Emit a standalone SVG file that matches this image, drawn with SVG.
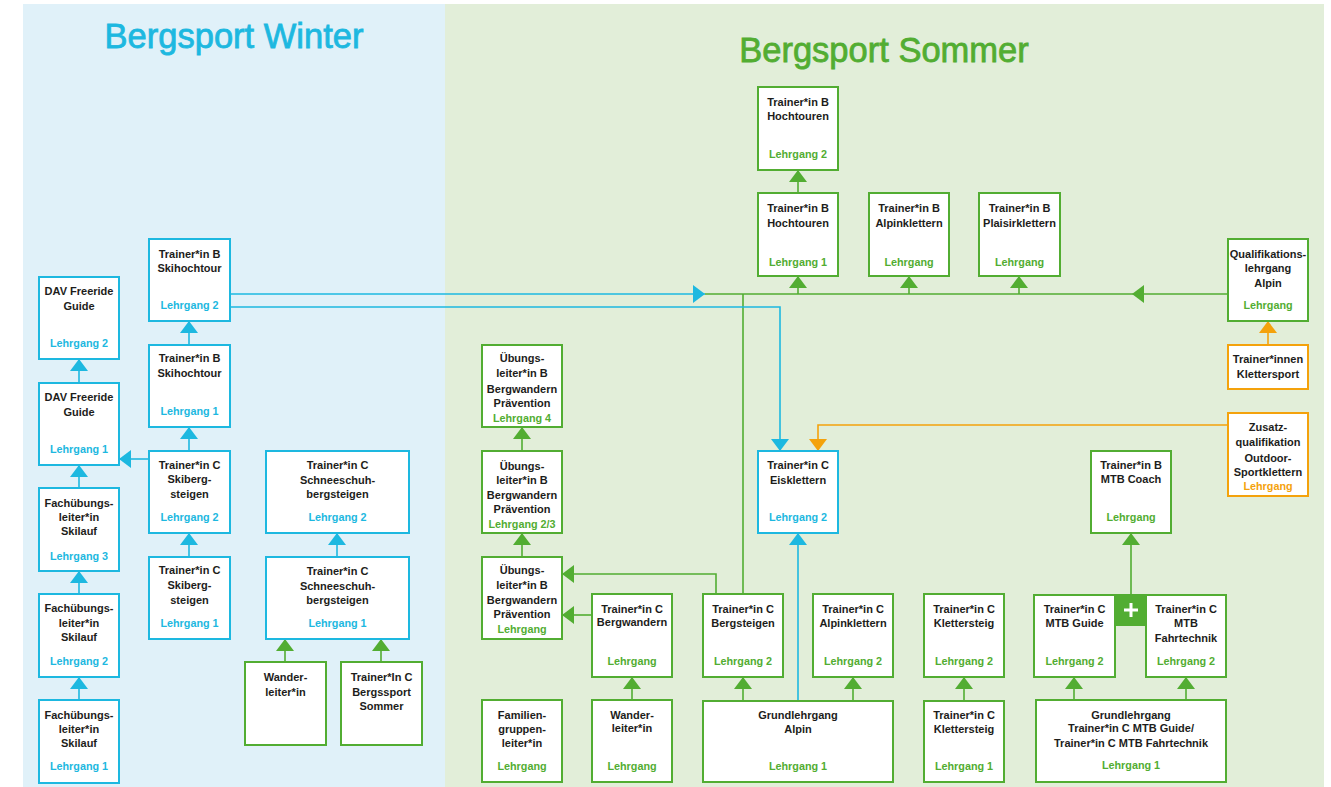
<svg xmlns="http://www.w3.org/2000/svg" width="1331" height="787" viewBox="0 0 1331 787">
<defs>
<style>
.bg{fill:#ffffff}
.pw{fill:#e0f1f9}
.ps{fill:#e2eed9}
.bx{fill:#ffffff;stroke-width:2}
.b{stroke:#1db8e0}
.g{stroke:#52ad32}
.o{stroke:#f4a20c}
text{font-family:"Liberation Sans",Arial,sans-serif;text-anchor:middle}
.t{font-size:11px;font-weight:bold;fill:#1d1d1b}
.lb{font-size:10.8px;font-weight:bold;fill:#1db8e0}
.lg{font-size:10.8px;font-weight:bold;fill:#52ad32}
.lo{font-size:10.8px;font-weight:bold;fill:#f4a20c}
.title{font-size:34.5px;stroke-width:0.8}
.c{fill:none;stroke-width:1.6}
</style>
<marker id="aB" viewBox="0 0 12 18" refX="12" refY="9" markerWidth="12" markerHeight="18" markerUnits="userSpaceOnUse" orient="auto"><path d="M0,0 L12,9 L0,18 z" fill="#1db8e0"/></marker>
<marker id="aG" viewBox="0 0 12 18" refX="12" refY="9" markerWidth="12" markerHeight="18" markerUnits="userSpaceOnUse" orient="auto"><path d="M0,0 L12,9 L0,18 z" fill="#52ad32"/></marker>
<marker id="aO" viewBox="0 0 12 18" refX="12" refY="9" markerWidth="12" markerHeight="18" markerUnits="userSpaceOnUse" orient="auto"><path d="M0,0 L12,9 L0,18 z" fill="#f4a20c"/></marker>
</defs>
<rect class="bg" x="0" y="0" width="1331" height="787"/>
<rect class="pw" x="23" y="4" width="422" height="783"/>
<rect class="ps" x="445" y="4" width="879" height="783"/>
<text class="title" x="234" y="48" fill="#1db8e0" stroke="#1db8e0">Bergsport Winter</text>
<text class="title" x="884" y="62" fill="#52ad32" stroke="#52ad32">Bergsport Sommer</text>

<g id="connectors">
<path class="c b" d="M79,383 V359" marker-end="url(#aB)"/>
<path class="c b" d="M79,488 V465" marker-end="url(#aB)"/>
<path class="c b" d="M79,594 V571" marker-end="url(#aB)"/>
<path class="c b" d="M79,700 V677" marker-end="url(#aB)"/>
<path class="c b" d="M189,345 V321" marker-end="url(#aB)"/>
<path class="c b" d="M189,451 V427" marker-end="url(#aB)"/>
<path class="c b" d="M189,557 V533" marker-end="url(#aB)"/>
<path class="c b" d="M149,459 H119" marker-end="url(#aB)"/>
<path class="c b" d="M337,557 V533" marker-end="url(#aB)"/>
<path class="c g" d="M285,662 V639" marker-end="url(#aG)"/>
<path class="c g" d="M381,662 V639" marker-end="url(#aG)"/>
<path class="c g" d="M705,294 H1228"/>
<path class="c g" d="M743,594 V294"/>
<polygon points="1132,294 1144,285 1144,303" fill="#52ad32"/>
<path class="c b" d="M230,294 H705" marker-end="url(#aB)"/>
<path class="c b" d="M230,307 H780 V451" marker-end="url(#aB)"/>
<path class="c b" d="M798,701 V533" marker-end="url(#aB)"/>
<path class="c g" d="M798,294 V276" marker-end="url(#aG)"/>
<path class="c g" d="M909,294 V276" marker-end="url(#aG)"/>
<path class="c g" d="M1019,294 V276" marker-end="url(#aG)"/>
<path class="c g" d="M798,193 V170" marker-end="url(#aG)"/>
<path class="c g" d="M522,451 V427" marker-end="url(#aG)"/>
<path class="c g" d="M522,557 V533" marker-end="url(#aG)"/>
<path class="c g" d="M716,594 V574 H562" marker-end="url(#aG)"/>
<path class="c g" d="M592,615 H562" marker-end="url(#aG)"/>
<path class="c g" d="M632,700 V677" marker-end="url(#aG)"/>
<path class="c g" d="M743,701 V677" marker-end="url(#aG)"/>
<path class="c g" d="M853,701 V677" marker-end="url(#aG)"/>
<path class="c g" d="M964,701 V677" marker-end="url(#aG)"/>
<path class="c g" d="M1074,700 V677" marker-end="url(#aG)"/>
<path class="c g" d="M1186,700 V677" marker-end="url(#aG)"/>
<path class="c g" d="M1131,595 V533" marker-end="url(#aG)"/>
<path class="c o" d="M1268,345 V321" marker-end="url(#aO)"/>
<path class="c o" d="M1228,425 H818 V451" marker-end="url(#aO)"/>
</g>

<!-- Winter -->
<g id="dav2"><rect class="bx b" x="39" y="277" width="80" height="82"/><text class="t" x="79" y="295">DAV Freeride</text><text class="t" x="79" y="310">Guide</text><text class="lb" x="79" y="347">Lehrgang 2</text></g>
<g id="dav1"><rect class="bx b" x="39" y="383" width="80" height="82"/><text class="t" x="79" y="401">DAV Freeride</text><text class="t" x="79" y="416">Guide</text><text class="lb" x="79" y="453">Lehrgang 1</text></g>
<g id="fue3"><rect class="bx b" x="39" y="488" width="80" height="83"/><text class="t" x="79" y="507">Fachübungs-</text><text class="t" x="79" y="521">leiter*in</text><text class="t" x="79" y="535">Skilauf</text><text class="lb" x="79" y="560">Lehrgang 3</text></g>
<g id="fue2"><rect class="bx b" x="39" y="594" width="80" height="83"/><text class="t" x="79" y="612">Fachübungs-</text><text class="t" x="79" y="627">leiter*in</text><text class="t" x="79" y="641">Skilauf</text><text class="lb" x="79" y="665">Lehrgang 2</text></g>
<g id="fue1"><rect class="bx b" x="39" y="700" width="80" height="83"/><text class="t" x="79" y="719">Fachübungs-</text><text class="t" x="79" y="733">leiter*in</text><text class="t" x="79" y="747">Skilauf</text><text class="lb" x="79" y="770">Lehrgang 1</text></g>
<g id="sht2"><rect class="bx b" x="149" y="239" width="81" height="82"/><text class="t" x="189.5" y="258">Trainer*in B</text><text class="t" x="189.5" y="272">Skihochtour</text><text class="lb" x="189.5" y="309">Lehrgang 2</text></g>
<g id="sht1"><rect class="bx b" x="149" y="345" width="81" height="82"/><text class="t" x="189.5" y="362">Trainer*in B</text><text class="t" x="189.5" y="377">Skihochtour</text><text class="lb" x="189.5" y="415">Lehrgang 1</text></g>
<g id="sbs2"><rect class="bx b" x="149" y="451" width="81" height="82"/><text class="t" x="189.5" y="469">Trainer*in C</text><text class="t" x="189.5" y="483">Skiberg-</text><text class="t" x="189.5" y="498">steigen</text><text class="lb" x="189.5" y="521">Lehrgang 2</text></g>
<g id="sbs1"><rect class="bx b" x="149" y="557" width="81" height="82"/><text class="t" x="189.5" y="574">Trainer*in C</text><text class="t" x="189.5" y="589">Skiberg-</text><text class="t" x="189.5" y="604">steigen</text><text class="lb" x="189.5" y="627">Lehrgang 1</text></g>
<g id="ss2"><rect class="bx b" x="266" y="451" width="143" height="82"/><text class="t" x="337.5" y="469">Trainer*in C</text><text class="t" x="337.5" y="484">Schneeschuh-</text><text class="t" x="337.5" y="498">bergsteigen</text><text class="lb" x="337.5" y="521">Lehrgang 2</text></g>
<g id="ss1"><rect class="bx b" x="266" y="557" width="143" height="82"/><text class="t" x="337.5" y="575">Trainer*in C</text><text class="t" x="337.5" y="590">Schneeschuh-</text><text class="t" x="337.5" y="604">bergsteigen</text><text class="lb" x="337.5" y="627">Lehrgang 1</text></g>
<g id="wl_w"><rect class="bx g" x="245" y="662" width="81" height="83"/><text class="t" x="285.5" y="681">Wander-</text><text class="t" x="285.5" y="696">leiter*in</text></g>
<g id="tcbs"><rect class="bx g" x="341" y="662" width="81" height="83"/><text class="t" x="381.5" y="681">Trainer*In C</text><text class="t" x="381.5" y="696">Bergssport</text><text class="t" x="381.5" y="710">Sommer</text></g>

<!-- Summer -->
<g id="ht2"><rect class="bx g" x="758" y="87" width="80" height="83"/><text class="t" x="798" y="106">Trainer*in B</text><text class="t" x="798" y="120">Hochtouren</text><text class="lg" x="798" y="158">Lehrgang 2</text></g>
<g id="ht1"><rect class="bx g" x="758" y="193" width="80" height="83"/><text class="t" x="798" y="212">Trainer*in B</text><text class="t" x="798" y="227">Hochtouren</text><text class="lg" x="798" y="266">Lehrgang 1</text></g>
<g id="bak"><rect class="bx g" x="869" y="193" width="80" height="83"/><text class="t" x="909" y="212">Trainer*in B</text><text class="t" x="909" y="227">Alpinklettern</text><text class="lg" x="909" y="266">Lehrgang</text></g>
<g id="bpk"><rect class="bx g" x="979" y="193" width="81" height="83"/><text class="t" x="1019.5" y="212">Trainer*in B</text><text class="t" x="1019.5" y="227">Plaisirklettern</text><text class="lg" x="1019.5" y="266">Lehrgang</text></g>
<g id="qla"><rect class="bx g" x="1228" y="239" width="80" height="82"/><text class="t" x="1268" y="258">Qualifikations-</text><text class="t" x="1268" y="272">lehrgang</text><text class="t" x="1268" y="287">Alpin</text><text class="lg" x="1268" y="309">Lehrgang</text></g>
<g id="tks"><rect class="bx o" x="1228" y="345" width="80" height="44"/><text class="t" x="1268" y="363">Trainer*innen</text><text class="t" x="1268" y="378">Klettersport</text></g>
<g id="zq"><rect class="bx o" x="1228" y="413" width="80" height="83"/><text class="t" x="1268" y="431">Zusatz-</text><text class="t" x="1268" y="446">qualifikation</text><text class="t" x="1268" y="462">Outdoor-</text><text class="t" x="1268" y="476">Sportklettern</text><text class="lo" x="1268" y="490">Lehrgang</text></g>
<g id="ul4"><rect class="bx g" x="482" y="345" width="80" height="82"/><text class="t" x="522" y="362">Übungs-</text><text class="t" x="522" y="377">leiter*in B</text><text class="t" x="522" y="393">Bergwandern</text><text class="t" x="522" y="407">Prävention</text><text class="lg" x="522" y="422">Lehrgang 4</text></g>
<g id="ul23"><rect class="bx g" x="482" y="451" width="80" height="82"/><text class="t" x="522" y="470">Übungs-</text><text class="t" x="522" y="484">leiter*in B</text><text class="t" x="522" y="499">Bergwandern</text><text class="t" x="522" y="513">Prävention</text><text class="lg" x="522" y="528">Lehrgang 2/3</text></g>
<g id="ul1"><rect class="bx g" x="482" y="557" width="80" height="82"/><text class="t" x="522" y="574">Übungs-</text><text class="t" x="522" y="589">leiter*in B</text><text class="t" x="522" y="604">Bergwandern</text><text class="t" x="522" y="618">Prävention</text><text class="lg" x="522" y="633">Lehrgang</text></g>
<g id="eis"><rect class="bx b" x="758" y="451" width="80" height="82"/><text class="t" x="798" y="469">Trainer*in C</text><text class="t" x="798" y="484">Eisklettern</text><text class="lb" x="798" y="521">Lehrgang 2</text></g>
<g id="mtbc"><rect class="bx g" x="1091" y="451" width="80" height="82"/><text class="t" x="1131" y="469">Trainer*in B</text><text class="t" x="1131" y="483">MTB Coach</text><text class="lg" x="1131" y="521">Lehrgang</text></g>
<g id="bw"><rect class="bx g" x="592" y="594" width="80" height="83"/><text class="t" x="632" y="613">Trainer*in C</text><text class="t" x="632" y="626">Bergwandern</text><text class="lg" x="632" y="665">Lehrgang</text></g>
<g id="bst"><rect class="bx g" x="703" y="594" width="80" height="83"/><text class="t" x="743" y="613">Trainer*in C</text><text class="t" x="743" y="627">Bergsteigen</text><text class="lg" x="743" y="665">Lehrgang 2</text></g>
<g id="cak"><rect class="bx g" x="813" y="594" width="80" height="83"/><text class="t" x="853" y="613">Trainer*in C</text><text class="t" x="853" y="627">Alpinklettern</text><text class="lg" x="853" y="665">Lehrgang 2</text></g>
<g id="ks2"><rect class="bx g" x="924" y="594" width="80" height="83"/><text class="t" x="964" y="613">Trainer*in C</text><text class="t" x="964" y="627">Klettersteig</text><text class="lg" x="964" y="665">Lehrgang 2</text></g>
<g id="mtbg"><rect class="bx g" x="1034" y="595" width="81" height="82"/><text class="t" x="1074.5" y="613">Trainer*in C</text><text class="t" x="1074.5" y="627">MTB Guide</text><text class="lg" x="1074.5" y="665">Lehrgang 2</text></g>
<g id="mtbf"><rect class="bx g" x="1146" y="595" width="80" height="82"/><text class="t" x="1186" y="613">Trainer*in C</text><text class="t" x="1186" y="627">MTB</text><text class="t" x="1186" y="642">Fahrtechnik</text><text class="lg" x="1186" y="665">Lehrgang 2</text></g>
<g id="plus"><rect x="1115" y="594" width="31" height="32" fill="#52ad32"/><path d="M1124,610 H1138 M1131,603 V617" stroke="#ffffff" stroke-width="3"/></g>
<g id="fgl"><rect class="bx g" x="482" y="700" width="80" height="82"/><text class="t" x="522" y="719">Familien-</text><text class="t" x="522" y="733">gruppen-</text><text class="t" x="522" y="747">leiter*in</text><text class="lg" x="522" y="770">Lehrgang</text></g>
<g id="wl_s"><rect class="bx g" x="592" y="700" width="80" height="82"/><text class="t" x="632" y="719">Wander-</text><text class="t" x="632" y="732">leiter*in</text><text class="lg" x="632" y="770">Lehrgang</text></g>
<g id="gla"><rect class="bx g" x="703" y="701" width="190" height="81"/><text class="t" x="798" y="719">Grundlehrgang</text><text class="t" x="798" y="733">Alpin</text><text class="lg" x="798" y="770">Lehrgang 1</text></g>
<g id="ks1"><rect class="bx g" x="924" y="701" width="80" height="81"/><text class="t" x="964" y="719">Trainer*in C</text><text class="t" x="964" y="733">Klettersteig</text><text class="lg" x="964" y="770">Lehrgang 1</text></g>
<g id="gmtb"><rect class="bx g" x="1036" y="700" width="190" height="82"/><text class="t" x="1131" y="719">Grundlehrgang</text><text class="t" x="1131" y="732">Trainer*in C MTB Guide/</text><text class="t" x="1131" y="747">Trainer*in C MTB Fahrtechnik</text><text class="lg" x="1131" y="769">Lehrgang 1</text></g>
</svg>
